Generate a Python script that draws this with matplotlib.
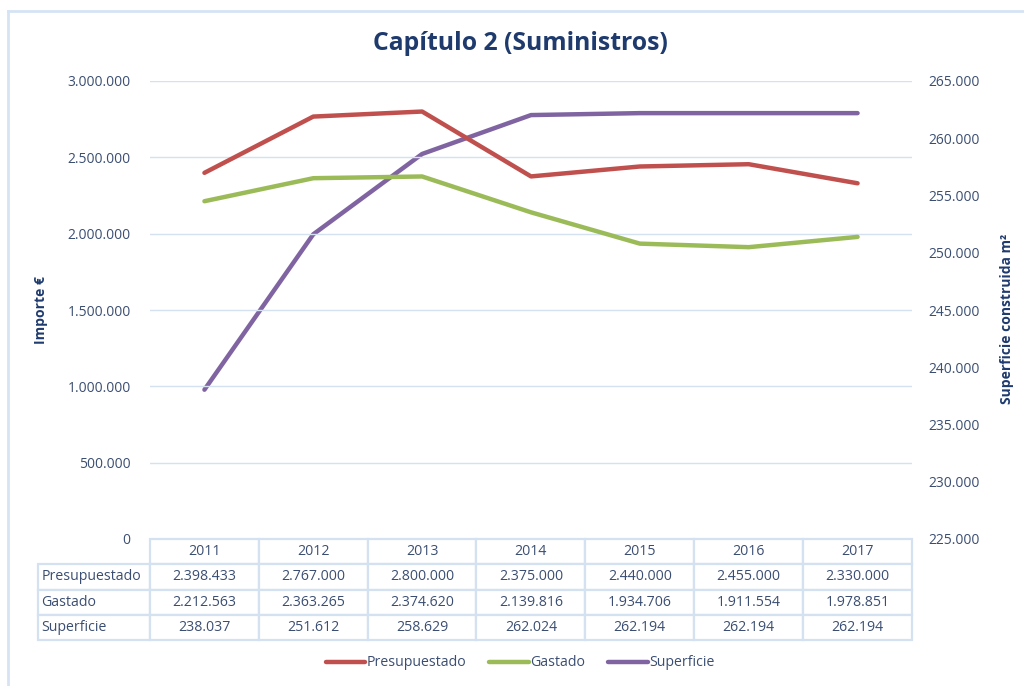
import matplotlib.pyplot as plt
from matplotlib.lines import Line2D
from matplotlib.ticker import FuncFormatter

plt.rcParams['font.family'] = ['Open Sans', 'DejaVu Sans']

# Data
years = ["2011", "2012", "2013", "2014", "2015", "2016", "2017"]
presupuestado = [2398433, 2767000, 2800000, 2375000, 2440000, 2455000, 2330000]
gastado = [2212563, 2363265, 2374620, 2139816, 1934706, 1911554, 1978851]
superficie = [238037, 251612, 258629, 262024, 262194, 262194, 262194]

c_pres = "#C0504D"
c_gast = "#9BBB59"
c_sup = "#8064A2"
txt = "#3B4E72"
navy = "#1F3B6E"
grid_c = "#D3E1F1"


def miles(v, pos=None):
    return f"{int(round(v)):,}".replace(",", ".")


W, H = 1024, 686
fig = plt.figure(figsize=(W / 100, H / 100), dpi=100)
ax = fig.add_axes([150 / W, 1 - 539 / H, 762 / W, 458 / H])
ax2 = ax.twinx()

x = range(len(years))
l1, = ax.plot(x, presupuestado, color=c_pres, lw=3.2, solid_capstyle="round", label="Presupuestado")
l2, = ax.plot(x, gastado, color=c_gast, lw=3.2, solid_capstyle="round", label="Gastado")
l3, = ax2.plot(x, superficie, color=c_sup, lw=3.2, solid_capstyle="round", label="Superficie")

ax.set_xlim(-0.5, len(years) - 0.5)
ax.set_ylim(0, 3000000)
ax.set_yticks(range(0, 3000001, 500000))
ax.yaxis.set_major_formatter(FuncFormatter(lambda v, p: "0" if v == 0 else miles(v)))
ax2.set_ylim(225000, 265000)
ax2.set_yticks(range(225000, 265001, 5000))
ax2.yaxis.set_major_formatter(FuncFormatter(miles))

for a in (ax, ax2):
    for s in a.spines.values():
        s.set_visible(False)
    a.tick_params(length=0, colors=txt, labelsize=10)
ax.tick_params(axis="y", pad=14)
ax2.tick_params(axis="y", pad=12)
ax.set_xticks([])

for v in range(500000, 3000001, 500000):
    ax.axhline(v, color=grid_c, lw=1, zorder=0)
ax.set_zorder(ax2.get_zorder() + 1)
ax.patch.set_visible(False)

ax.set_ylabel("Importe €", color=navy, fontsize=10, fontweight="bold", labelpad=14)
ax2.set_ylabel("Superficie construida m²", color=navy, fontsize=10, fontweight="bold", labelpad=12)
ax2.yaxis.set_label_coords(1 + 88 / 762, 0.48)

fig.text(520 / W, 1 - 44 / H, "Capítulo 2 (Suministros)", ha="center", va="center",
         fontsize=17.8, fontweight="bold", color=navy)

# Data table
rows = [["Presupuestado"] + [miles(v) for v in presupuestado],
        ["Gastado"] + [miles(v) for v in gastado],
        ["Superficie"] + [miles(v) for v in superficie]]
lab_w = 112
tot_w = lab_w + 762
tbl = ax.table(cellText=rows, colLabels=[""] + years,
               colWidths=[lab_w / tot_w] + [109 / tot_w] * 7,
               bbox=[-lab_w / 762, -101 / 458, tot_w / 762, 101 / 458],
               cellLoc="center")
tbl.auto_set_font_size(False)
for (r, c), cell in tbl.get_celld().items():
    cell.set_edgecolor(grid_c)
    cell.set_linewidth(1.6)
    cell.get_text().set_color(txt)
    cell.get_text().set_fontsize(10.2)
    if c == 0:
        cell.get_text().set_ha("left")
        cell.PAD = 0.03
    if r == 0 and c == 0:
        cell.visible_edges = ""

# Legend
fig.legend(handles=[l1, l2, l3], loc="center", bbox_to_anchor=(520 / W, 1 - 663 / H),
           ncol=3, frameon=False, fontsize=10.2, handlelength=2.8, handletextpad=0.1,
           columnspacing=1.6, labelcolor=txt)

# Outer chart frame (top and left edges visible)
fig.add_artist(Line2D([7.5 / W, 7.5 / W], [0, 1 - 10.5 / H], color="#D6E3F5", lw=2))
fig.add_artist(Line2D([7.5 / W, 1], [1 - 10.5 / H, 1 - 10.5 / H], color="#D6E3F5", lw=2))

fig.savefig("out.png", dpi=100)
